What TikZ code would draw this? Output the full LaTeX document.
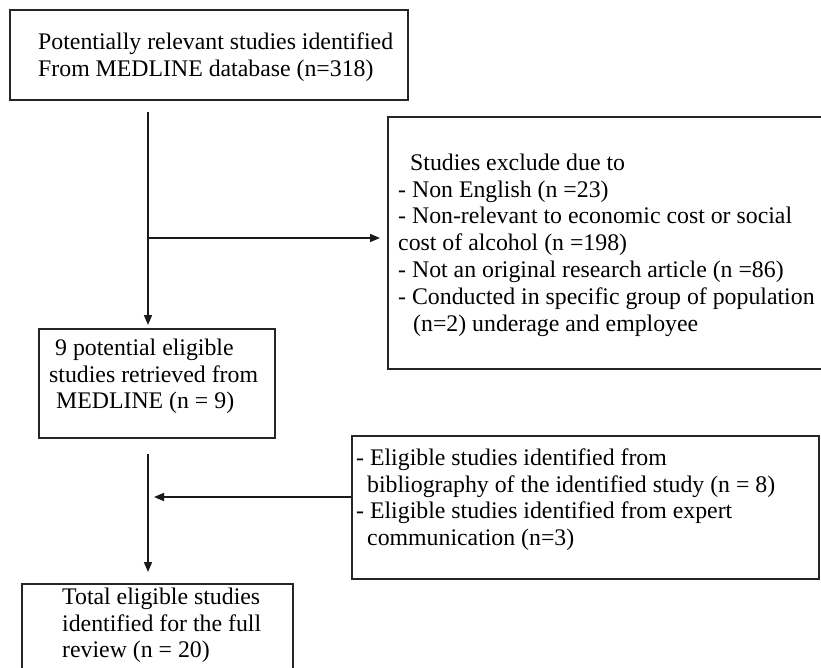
\documentclass[tikz,border=0pt]{standalone}
\usepackage{fontspec}
\setmainfont{Liberation Serif}
\usetikzlibrary{arrows.meta,calc}
\begin{document}
\begin{tikzpicture}[x=1pt,y=-1pt,
  box/.style={draw=black!85, line width=1.6pt, rectangle, inner sep=0pt, anchor=north west},
  txt/.style={anchor=north west, inner sep=0pt, align=left, font=\fontsize{23.8}{26.8}\selectfont},
  arr/.style={draw=black!90, line width=1.5pt, -{Triangle[length=10pt,width=8pt]}},
  ln/.style={draw=black!90, line width=1.5pt}]
\useasboundingbox[fill=white] (0,0) rectangle (821,667);
\clip (0,0) rectangle (821,667);
% boxes
\node[box, minimum width=398, minimum height=90] (b1) at (9,9) {};
\node[box, minimum width=440, minimum height=252] (b2) at (387,116) {};
\node[box, minimum width=236, minimum height=109] (b3) at (38,328) {};
\node[box, minimum width=467, minimum height=143] (b4) at (351,435) {};
\node[box, minimum width=271, minimum height=100] (b5) at (21,583) {};
% texts
\node[txt] (t1) at (38,30) {\rule{0pt}{19pt}Potentially relevant studies identified\\From MEDLINE database (n=318)};
\node[txt] (t2) at (398,151) {\rule{0pt}{19pt}\hspace{12pt}Studies exclude due to\\- Non English (n =23)\\- Non-relevant to economic cost or social\\cost of alcohol (n =198)\\- Not an original research article (n =86)\\- Conducted in specific group of population\\\hspace{15pt}(n=2) underage and employee};
\node[txt] (t3) at (49,336) {\rule{0pt}{19pt}\hspace{6pt}9 potential eligible\\studies retrieved from\\\hspace{7pt}MEDLINE (n = 9)};
\node[txt] (t4) at (356,446) {\rule{0pt}{19pt}- Eligible studies identified from\\\hspace{11pt}bibliography of the identified study (n = 8)\\- Eligible studies identified from expert\\\hspace{11pt}communication (n=3)};
\node[txt] (t5) at (62,585) {\rule{0pt}{19pt}Total eligible studies\\identified for the full\\review (n = 20)};
% connectors
\coordinate (a1) at (148,112);
\coordinate (j1) at (148,238);
\coordinate (a2) at (148,454);
\coordinate (j2) at (148,497);
\draw[arr, shorten >=3pt] (a1) -- (a1 |- b3.north);
\draw[arr, shorten >=7pt] (j1) -- (j1 -| b2.west);
\draw[arr, shorten >=11pt] (a2) -- (a2 |- b5.north);
\draw[arr, shorten >=6pt] (j2 -| b4.west) -- (j2);
\end{tikzpicture}
\end{document}
